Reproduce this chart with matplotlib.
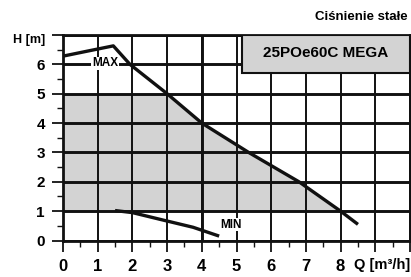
import matplotlib.pyplot as plt
import numpy as np
from matplotlib.patches import Rectangle

plt.rcParams['font.family'] = ['Liberation Sans', 'DejaVu Sans']
plt.rcParams['font.weight'] = 'bold'

# dane krzywych (Q [m3/h], H [m])
max_q = np.array([0.0, 0.7, 1.45, 1.93, 3.0, 4.0, 5.35, 6.8, 8.0, 8.5])
max_h = np.array([6.28, 6.45, 6.63, 6.0, 5.0, 4.0, 3.0, 2.0, 1.0, 0.55])
min_q = np.array([1.5, 2.0, 2.8, 3.75, 4.5])
min_h = np.array([1.02, 0.95, 0.72, 0.45, 0.15])

x_ticks = np.arange(0, 11)
x_labels = ['0', '1', '2', '3', '4', '5', '6', '7', '8', '', '']
y_ticks = np.arange(0, 8)
y_labels = ['0', '1', '2', '3', '4', '5', '6', '']

title = 'Ciśnienie stałe'
model = '25POe60C MEGA'

fig = plt.figure(figsize=(4.11, 2.77), dpi=100)
ax = fig.add_axes([63 / 411, 1 - 240.5 / 277, 347 / 411, 205.5 / 277])

# obszar roboczy (szary)
ax.fill_between(max_q, 1, np.clip(max_h, 1, 5), color='#d3d3d3', lw=0, zorder=1)

ax.set_xlim(0, 10)
ax.set_ylim(0, 7)
ax.set_xticks(x_ticks)
ax.set_xticklabels(x_labels, fontsize=12, fontweight='bold')
ax.set_yticks(y_ticks)
ax.set_yticklabels(y_labels, fontsize=11, fontweight='bold')
ax.set_xticks(np.arange(0.5, 10, 1), minor=True)
ax.set_yticks(np.arange(0.5, 7, 1), minor=True)
ax.tick_params(which='major', length=8, width=1.3, pad=5, color='#111111')
ax.tick_params(which='minor', length=4, width=1.0, color='#111111')

ax.xaxis.grid(True, which='major', color='#111111', lw=1.4)
ax.yaxis.grid(True, which='major', color='#111111', lw=2.1)
ax.axvline(4, color='#111111', lw=2.1, zorder=1.5)
for s in ax.spines.values():
    s.set_linewidth(2.0)
    s.set_color('#111111')

ax.plot(max_q, max_h, color='#111111', lw=2.4, zorder=2, solid_capstyle='butt')
ax.plot(min_q, min_h, color='#111111', lw=2.4, zorder=2, solid_capstyle='butt')

ax.text(1.21, 6.03, 'MAX', fontsize=8.5, fontweight='bold', ha='center', va='center',
        zorder=4, bbox=dict(facecolor='white', edgecolor='none', pad=0.3))
ax.text(4.85, 0.53, 'MIN', fontsize=8.5, fontweight='bold', ha='center', va='center',
        zorder=4, bbox=dict(facecolor='white', edgecolor='none', pad=0.3))

ax.add_patch(Rectangle((5.15, 5.72), 4.85, 1.28, facecolor='#d3d3d3',
                       edgecolor='#111111', lw=1.5, zorder=3))
ax.text(7.58, 6.38, model, fontsize=11, fontweight='bold', ha='center', va='center', zorder=4)

fig.text(408 / 411, 1 - 17 / 277, title, fontsize=9.5, fontweight='bold', ha='right', va='center')
fig.text(29 / 411, 1 - 40 / 277, 'H [m]', fontsize=9, fontweight='bold', ha='center', va='center')
fig.text(410 / 411, 1 - 265 / 277, 'Q [m³/h]', fontsize=10.5, fontweight='bold', ha='right', va='center')

plt.savefig('out.png', dpi=100)
